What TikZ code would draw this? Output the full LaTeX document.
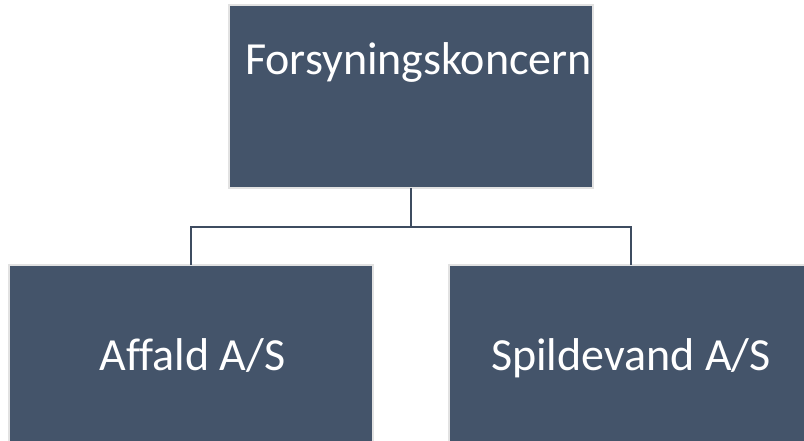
\documentclass[tikz,border=0pt]{standalone}
\usepackage{fontspec}
\setmainfont[Ligatures=NoCommon]{Carlito}
\definecolor{boxfill}{HTML}{44546A}
\definecolor{boxedge}{HTML}{E2E2E2}
\definecolor{linkcol}{HTML}{3E4C60}
\begin{document}
\begin{tikzpicture}[x=1pt,y=-1pt,
  orgbox/.style={draw=boxedge,line width=2pt,fill=boxfill,minimum width=364pt,minimum height=183pt,inner sep=0pt,outer sep=0pt},
  boxtext/.style={text=white,font=\fontsize{46}{54}\selectfont,anchor=base,inner sep=0pt},
  link/.style={draw=linkcol,line width=2.4pt}]
\useasboundingbox (0,0) rectangle (804,441);
\clip (0,0) rectangle (804,441);
\node[orgbox] (top) at (411,96.5) {};
\node[orgbox] (left) at (191,356.5) {};
\node[orgbox] (right) at (631,356.5) {};
\node[boxtext] (ttop) at (418.5,75) {Forsyningskoncern};
\node[boxtext] (tleft) at (192.5,370) {Affald A/S};
\node[boxtext] (tright) at (631,370) {Spildevand A/S};
\coordinate (mid) at (411,227);
\draw[link] (top.south) -- (mid);
\draw[link] (mid) -| (left.north);
\draw[link] (mid) -| (right.north);
\end{tikzpicture}
\end{document}
